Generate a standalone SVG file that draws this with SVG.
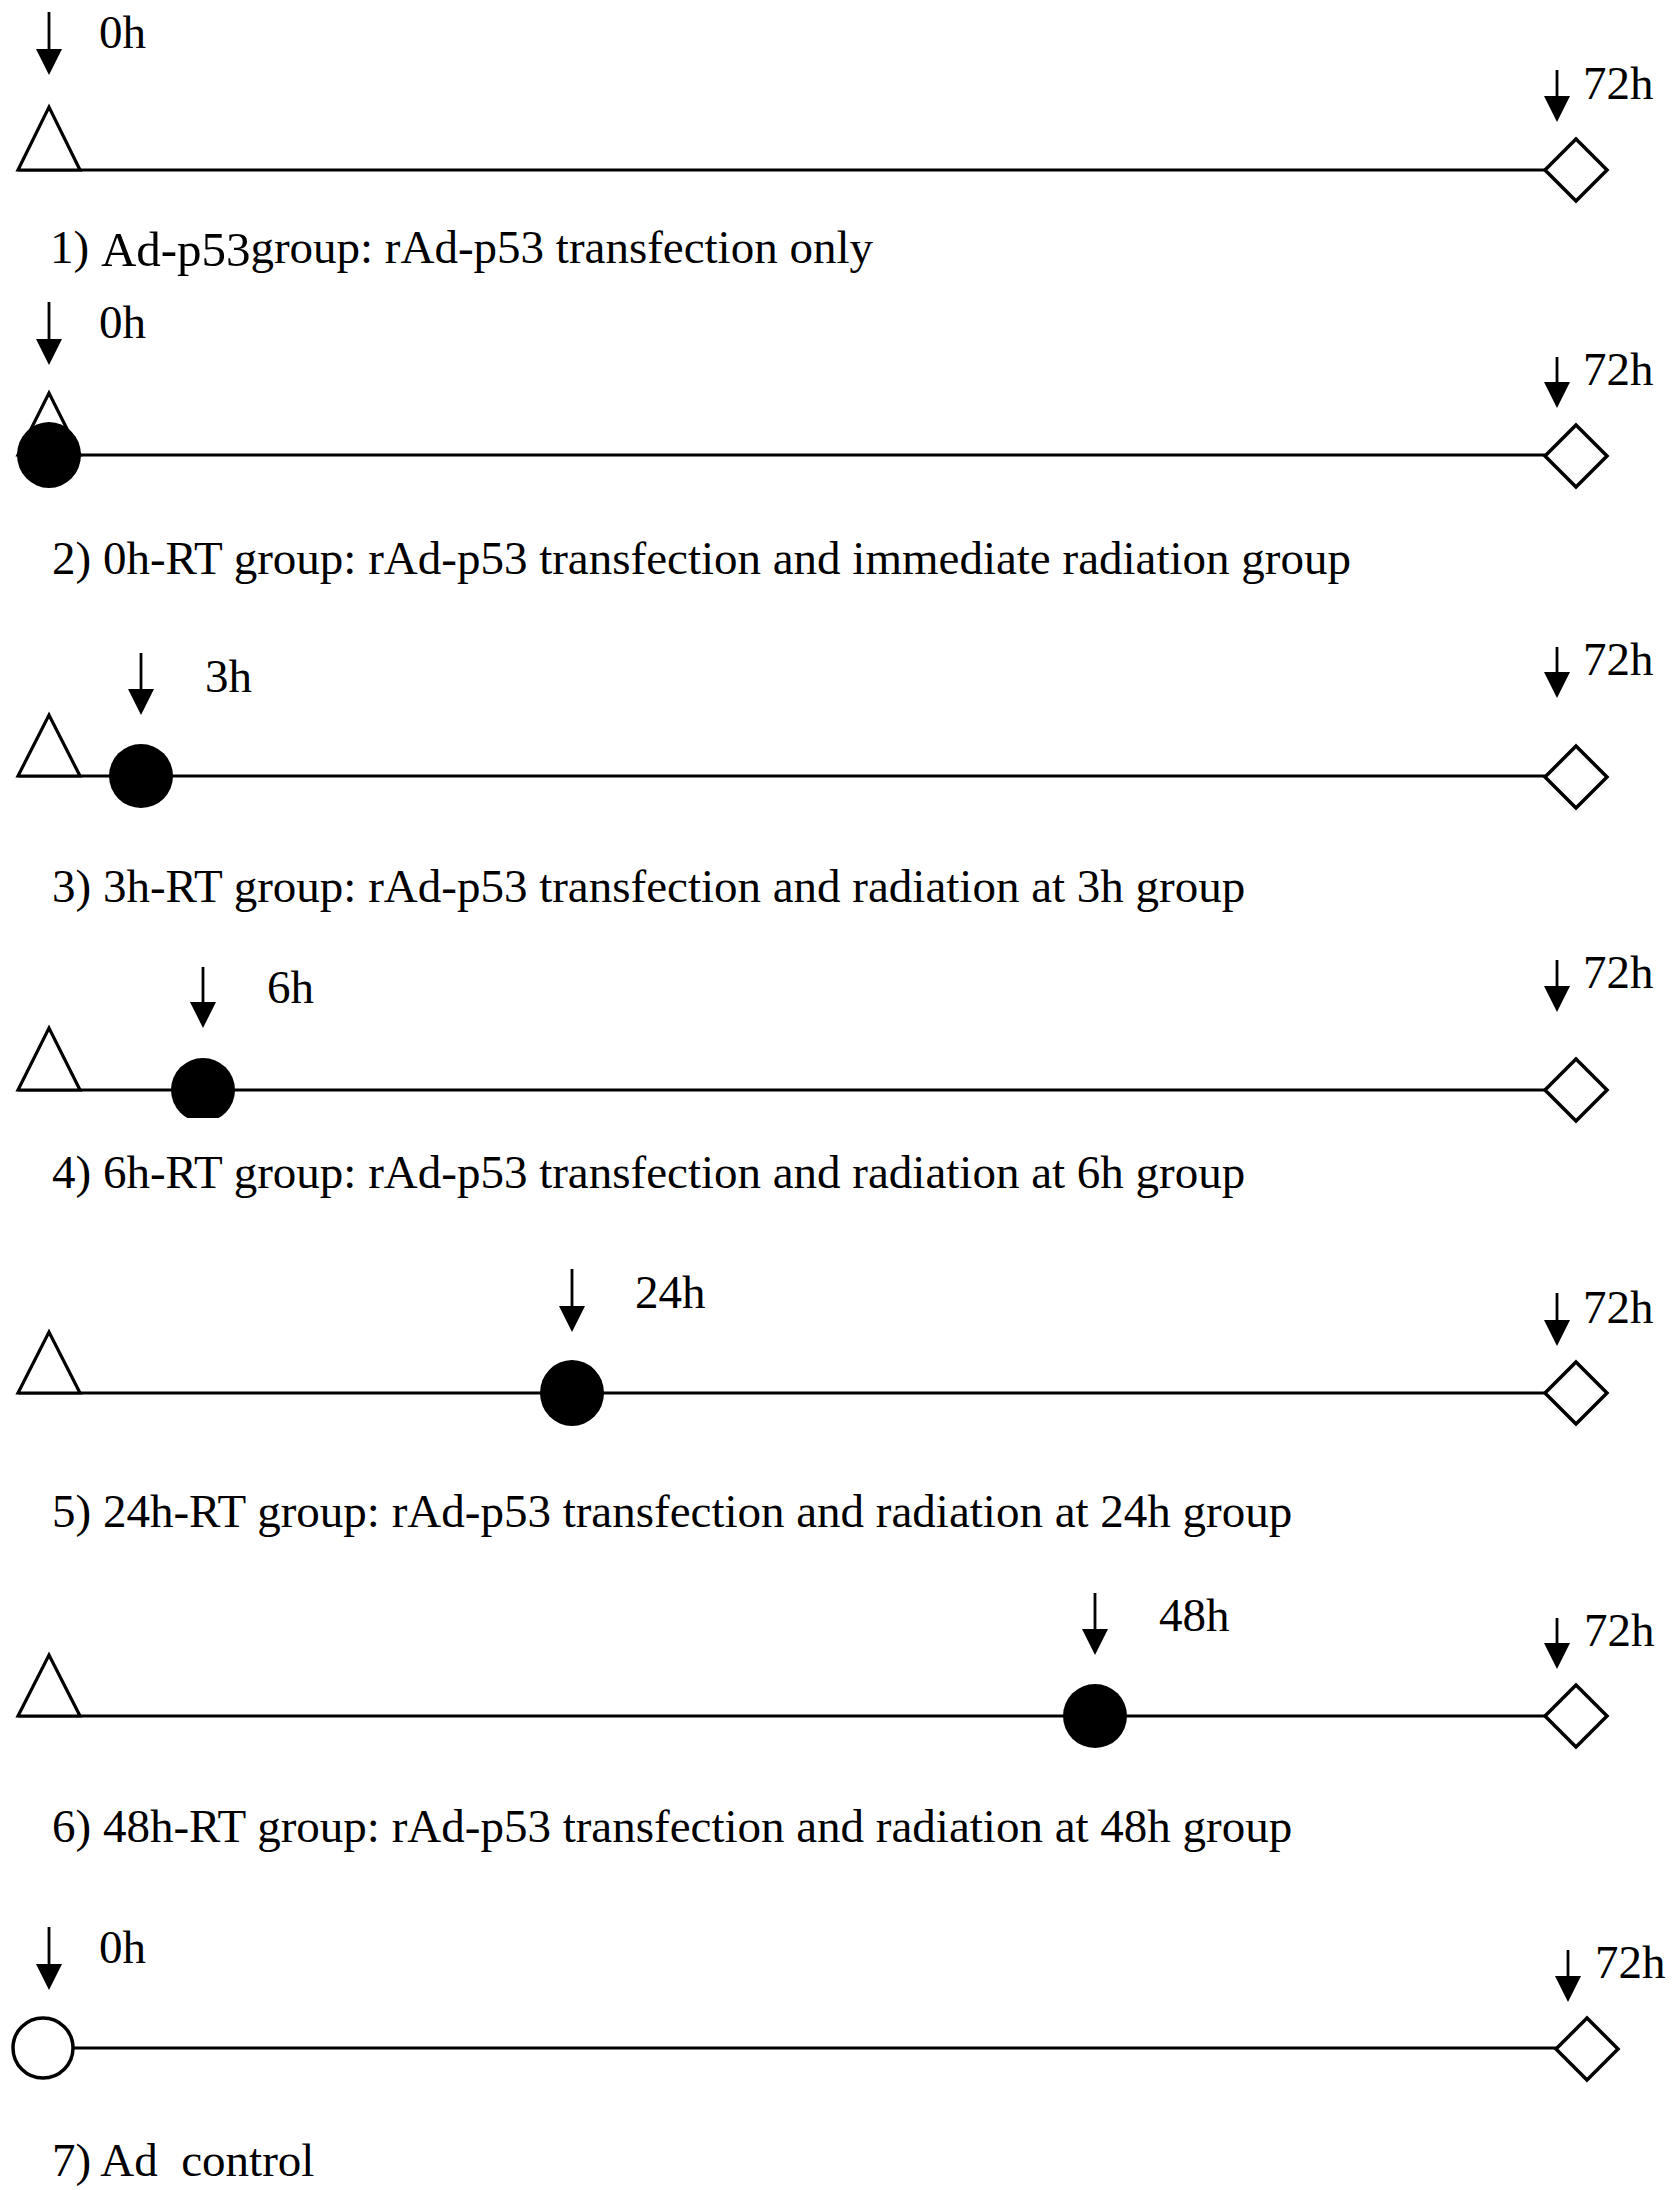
<svg xmlns="http://www.w3.org/2000/svg" width="1677" height="2190" viewBox="0 0 1677 2190">
<style>
text{font-family:"Liberation Serif","Times New Roman",serif;font-size:47px;fill:#000}
.tl{stroke:#000;stroke-width:3.2;fill:none}
.ar{stroke:#000;stroke-width:2.8;fill:none;marker-end:url(#ah)}
.tri{fill:#fff;stroke:#000;stroke-width:3.2;stroke-linejoin:miter}
.dia{fill:#fff;stroke:#000;stroke-width:3.5;stroke-linejoin:miter}
.rt{fill:#000;stroke:none}
.ad{fill:#fff;stroke:#000;stroke-width:3.5}
</style>
<defs>
<marker id="ah" viewBox="0 0 26 26" markerWidth="26" markerHeight="26" markerUnits="userSpaceOnUse" orient="auto" refX="20" refY="13">
<path d="M0,0 L26,13 L0,26 z" fill="#000"/>
</marker>
<clipPath id="clip4"><rect x="150" y="1040" width="110" height="78"/></clipPath>
</defs>
<rect width="1677" height="2190" fill="#fff"/>

<g id="connectors">
<line class="tl" x1="18" y1="170" x2="1545" y2="170"/>
<line class="tl" x1="49" y1="455" x2="1545" y2="455"/>
<line class="tl" x1="18" y1="776" x2="1545" y2="776"/>
<line class="tl" x1="18" y1="1090" x2="1545" y2="1090"/>
<line class="tl" x1="18" y1="1393" x2="1545" y2="1393"/>
<line class="tl" x1="18" y1="1716" x2="1545" y2="1716"/>
<line class="tl" x1="74" y1="2048" x2="1556" y2="2048"/>
<line class="ar" x1="49" y1="12" x2="49" y2="69"/>
<line class="ar" x1="1557" y1="70" x2="1557" y2="116"/>
<line class="ar" x1="49" y1="302" x2="49" y2="359"/>
<line class="ar" x1="1557" y1="357" x2="1557" y2="402"/>
<line class="ar" x1="141" y1="653" x2="141" y2="709"/>
<line class="ar" x1="1557" y1="647" x2="1557" y2="692"/>
<line class="ar" x1="203" y1="967" x2="203" y2="1022"/>
<line class="ar" x1="1557" y1="960" x2="1557" y2="1006"/>
<line class="ar" x1="572" y1="1269" x2="572" y2="1326"/>
<line class="ar" x1="1557" y1="1293" x2="1557" y2="1340"/>
<line class="ar" x1="1095" y1="1593" x2="1095" y2="1649"/>
<line class="ar" x1="1557" y1="1618" x2="1557" y2="1663"/>
<line class="ar" x1="49" y1="1927" x2="49" y2="1984"/>
<line class="ar" x1="1568" y1="1950" x2="1568" y2="1996"/>
</g>

<g id="row1">
<polygon class="tri" points="18,170 49,107 80,170"/>
<polygon class="dia" points="1545,170 1576,139 1607,170 1576,201"/>
<text x="99" y="48">0h</text>
<text x="1583" y="99">72h</text>
<text x="50" y="263">1) <tspan dy="3" font-size="49">Ad-p53</tspan><tspan dx="-12" dy="-3"> group: rAd-p53 transfection only</tspan></text>
</g>

<g id="row2">
<polygon class="tri" points="18,455 49,393 80,455"/>
<ellipse class="rt" cx="49" cy="455" rx="32" ry="33"/>
<polygon class="dia" points="1545,456 1576,425 1607,456 1576,487"/>
<text x="99" y="338">0h</text>
<text x="1583" y="385">72h</text>
<text x="52" y="574">2) 0h-RT group: rAd-p53 transfection and immediate radiation group</text>
</g>

<g id="row3">
<polygon class="tri" points="18,776 49,715 80,776"/>
<circle class="rt" cx="141" cy="776" r="32"/>
<polygon class="dia" points="1545,777 1576,746 1607,777 1576,808"/>
<text x="205" y="692">3h</text>
<text x="1583" y="675">72h</text>
<text x="52" y="902">3) 3h-RT group: rAd-p53 transfection and radiation at 3h group</text>
</g>

<g id="row4">
<polygon class="tri" points="18,1090 49,1028 80,1090"/>
<circle class="rt" cx="203" cy="1090" r="32" clip-path="url(#clip4)"/>
<polygon class="dia" points="1545,1090 1576,1059 1607,1090 1576,1121"/>
<text x="267" y="1003">6h</text>
<text x="1583" y="988">72h</text>
<text x="52" y="1188">4) 6h-RT group: rAd-p53 transfection and radiation at 6h group</text>
</g>

<g id="row5">
<polygon class="tri" points="18,1393 49,1332 80,1393"/>
<ellipse class="rt" cx="572" cy="1393" rx="32" ry="33"/>
<polygon class="dia" points="1545,1393 1576,1362 1607,1393 1576,1424"/>
<text x="635" y="1308">24h</text>
<text x="1583" y="1323">72h</text>
<text x="52" y="1527">5) 24h-RT group: rAd-p53 transfection and radiation at 24h group</text>
</g>

<g id="row6">
<polygon class="tri" points="18,1716 49,1655 80,1716"/>
<ellipse class="rt" cx="1095" cy="1716" rx="32" ry="32"/>
<polygon class="dia" points="1545,1716 1576,1685 1607,1716 1576,1747"/>
<text x="1159" y="1631">48h</text>
<text x="1584" y="1646">72h</text>
<text x="52" y="1842">6) 48h-RT group: rAd-p53 transfection and radiation at 48h group</text>
</g>

<g id="row7">
<circle class="ad" cx="43" cy="2048" r="30"/>
<polygon class="dia" points="1556,2049 1587,2018 1618,2049 1587,2080"/>
<text x="99" y="1963">0h</text>
<text x="1595" y="1978">72h</text>
<text x="52" y="2176" xml:space="preserve">7) Ad  control</text>
</g>
</svg>
